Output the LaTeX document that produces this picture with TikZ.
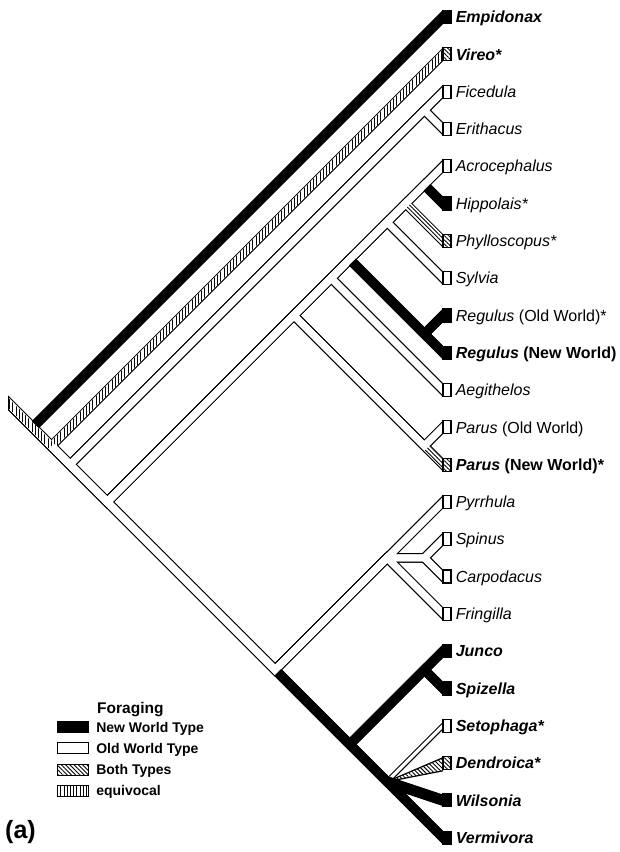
\documentclass[tikz,border=0pt]{standalone}
\usepackage{fontspec}
\setmainfont{Liberation Sans}
\usetikzlibrary{calc,positioning,patterns.meta}

\tikzset{
  outline/.style={black, line width=9.6pt, line join=miter, line cap=butt},
  inner/.style={white, line width=7.2pt, line join=miter, line cap=butt},
  nwbar/.style={black, line width=9.6pt, line join=miter, line cap=butt},
  bothfill/.style={pattern={Lines[angle=-45,distance=3pt,line width=0.9pt]}, pattern color=black},
  equifill/.style={pattern={Lines[angle=90,distance=3.2pt,line width=0.9pt]}, pattern color=black},
  tipbox/.style={draw, line width=1.2pt, inner sep=0pt, minimum width=8pt, minimum height=13pt},
  nwbox/.style={tipbox, fill=black},
  owbox/.style={tipbox, fill=white},
  btbox/.style={tipbox, bothfill},
  eqbox/.style={tipbox, equifill},
  taxon/.style={inner sep=0pt, anchor=west, text height=11.5pt, text depth=0pt,
    font=\fontsize{16}{19}\selectfont},
  keytext/.style={inner sep=0pt, anchor=west, text height=10pt, text depth=0pt,
    font=\bfseries\fontsize{14}{16}\selectfont},
}

% pattern strip inside the outline of one branch
\newcommand\barfill[3]{%
  \path[#1, preaction={fill=white}] ($(#2)!3.6pt!90:(#3)$) -- ($(#3)!3.6pt!-90:(#2)$)
    -- ($(#3)!3.6pt!90:(#2)$) -- ($(#2)!3.6pt!-90:(#3)$) -- cycle;}

\begin{document}
\begin{tikzpicture}[x=1pt, y=-1pt]
\useasboundingbox (0,0) rectangle (619,852);

% tips, top to bottom
\foreach \n [count=\i from 0] in {emp,vir,fic,eri,acr,hip,phy,syl,rego,regn,aeg,paro,parn,pyr,spi,car,fri,jun,spz,set,den,wil,ver}
  \coordinate (\n) at (443,{17+37.3*\i});

% clades: name/first tip/last tip
\foreach \n/\ta/\tb in {root/0/22,r1/1/22,r2/2/22,fe/2/3,r3/4/22,a9/4/12,a7/4/10,a6/4/9,a4/4/7,a3/4/6,a2/4/5,reg/8/9,par/11/12,pv/13/22,pf/13/16,sc/14/15,jv/17/22,js/17/18,sv/19/22}
  \coordinate (\n) at ({443-18.65*(\tb-\ta)},{17+18.65*(\ta+\tb)});
\coordinate (stem) at ($(root)+(-34,-34)$);

% run terminal branches past the box edge
\foreach \tp/\pp in {emp/root,vir/r1,fic/fe,eri/fe,acr/a2,hip/a2,phy/a3,syl/a4,rego/reg,regn/reg,aeg/a7,paro/par,parn/par,pyr/pf,spi/sc,car/sc,fri/pf,jun/js,spz/js,set/sv,den/sv,wil/sv,ver/sv}
  \coordinate (\tp-e) at ($(\tp)!-12pt!(\pp)$);
% where a coloured branch leaves its parent
\foreach \tp/\pp in {emp/root,vir/r1,hip/a2,phy/a3,reg/a6,parn/par,jv/pv}
  \coordinate (\tp-s) at ($(\pp)!3.6pt!(\tp)$);

\def\chains{{root,emp-e},{root,r1,vir-e},{root,r1,r2,fe,fic-e},{root,r1,r2,fe,eri-e},%
  {root,r1,r2,r3,a9,a7,a6,a4,a3,a2,acr-e},{root,r1,r2,r3,a9,a7,a6,a4,a3,a2,hip-e},%
  {root,r1,r2,r3,a9,a7,a6,a4,a3,phy-e},{root,r1,r2,r3,a9,a7,a6,a4,syl-e},%
  {root,r1,r2,r3,a9,a7,a6,reg,rego-e},{root,r1,r2,r3,a9,a7,a6,reg,regn-e},%
  {root,r1,r2,r3,a9,a7,aeg-e},{root,r1,r2,r3,a9,par,paro-e},{root,r1,r2,r3,a9,par,parn-e},%
  {root,r1,r2,r3,pv,pf,pyr-e},{root,r1,r2,r3,pv,pf,sc,spi-e},{root,r1,r2,r3,pv,pf,sc,car-e},%
  {root,r1,r2,r3,pv,pf,fri-e},{root,r1,r2,r3,pv,jv,js,jun-e},{root,r1,r2,r3,pv,jv,js,spz-e},%
  {root,r1,r2,r3,pv,jv,sv,wil-e},{root,r1,r2,r3,pv,jv,sv,ver-e}}

\begin{scope}
\clip (8,0) rectangle (443,852);
\foreach \ch in \chains {\draw[outline] (stem) foreach \q in \ch {-- (\q)};}
\foreach \ch in \chains {\draw[inner] (stem) foreach \q in \ch {-- (\q)};}
% Setophaga / Dendroica
\draw[line width=5.4pt] (sv) -- (set-e);
\draw[white, line width=3.2pt] (sv) -- (set-e);
\draw[line width=1.2pt, bothfill, preaction={fill=white}] (sv) -- ($(den)+(4,-7)$) -- ($(den)+(4,7)$) -- cycle;
% New World type
\draw[nwbar] (emp-s) -- (emp-e);
\draw[nwbar] (hip-s) -- (hip-e);
\draw[nwbar] (reg-s) -- (reg) -- (regn-e);
\draw[nwbar] (reg) -- (rego-e);
\draw[nwbar] (jv-s) -- (jv) -- (sv) -- (ver-e);
\draw[nwbar] (jv) -- (js) -- (jun-e);
\draw[nwbar] (js) -- (spz-e);
\draw[nwbar, line width=11pt] (sv) -- (wil-e);
% equivocal and both types
\barfill{equifill}{stem}{r1}
\barfill{equifill}{vir-s}{vir-e}
\barfill{bothfill}{phy-s}{phy-e}
\barfill{bothfill}{parn-s}{parn-e}
\draw[line width=1.2pt] ($(root)+(-24.1,-30.9)$) -- ($(root)+(-24.1,-17.3)$);
\end{scope}

% boxes and names
\foreach \n/\s/\txt in {emp/nwbox/{\bfseries\itshape Empidonax},%
  vir/btbox/{\bfseries\itshape Vireo*},fic/owbox/{\itshape Ficedula},%
  eri/owbox/{\itshape Erithacus},acr/owbox/{\itshape Acrocephalus},%
  hip/nwbox/{\itshape Hippolais*},phy/btbox/{\itshape Phylloscopus*},%
  syl/owbox/{\itshape Sylvia},rego/nwbox/{\textit{Regulus} (Old World)*},%
  regn/nwbox/{\bfseries\textit{Regulus} (New World)},aeg/owbox/{\itshape Aegithelos},%
  paro/owbox/{\textit{Parus} (Old World)},parn/btbox/{\bfseries\textit{Parus} (New World)*},%
  pyr/owbox/{\itshape Pyrrhula},spi/owbox/{\itshape Spinus},%
  car/owbox/{\itshape Carpodacus},fri/owbox/{\itshape Fringilla},%
  jun/nwbox/{\bfseries\itshape Junco},spz/nwbox/{\bfseries\itshape Spizella},%
  set/owbox/{\bfseries\itshape Setophaga*},den/btbox/{\bfseries\itshape Dendroica*},%
  wil/nwbox/{\bfseries\itshape Wilsonia},ver/nwbox/{\bfseries\itshape Vermivora}}
{
  \node[\s] (\n-b) at ($(\n)+(4,0)$) {};
  \node[taxon, right=4pt of \n-b] (\n-l) {\txt};
}

% legend
\node[inner sep=0pt, anchor=base west, font=\bfseries\fontsize{15.5}{18}\selectfont] (foraging) at (97,713) {Foraging};
\foreach \m/\s/\txt [count=\j from 0] in {nw/nwbox/New World Type,ow/owbox/Old World Type,bt/btbox/Both Types,eq/eqbox/equivocal}
{
  \node[\s, minimum width=31pt, minimum height=11pt] (\m-key) at (73,{727+21.3*\j}) {};
  \node[keytext, right=7pt of \m-key] (\m-txt) {\txt};
}
\node[inner sep=0pt, anchor=base west, font=\bfseries\fontsize{25}{30}\selectfont] (panel) at (5,838) {(a)};
\end{tikzpicture}
\end{document}
